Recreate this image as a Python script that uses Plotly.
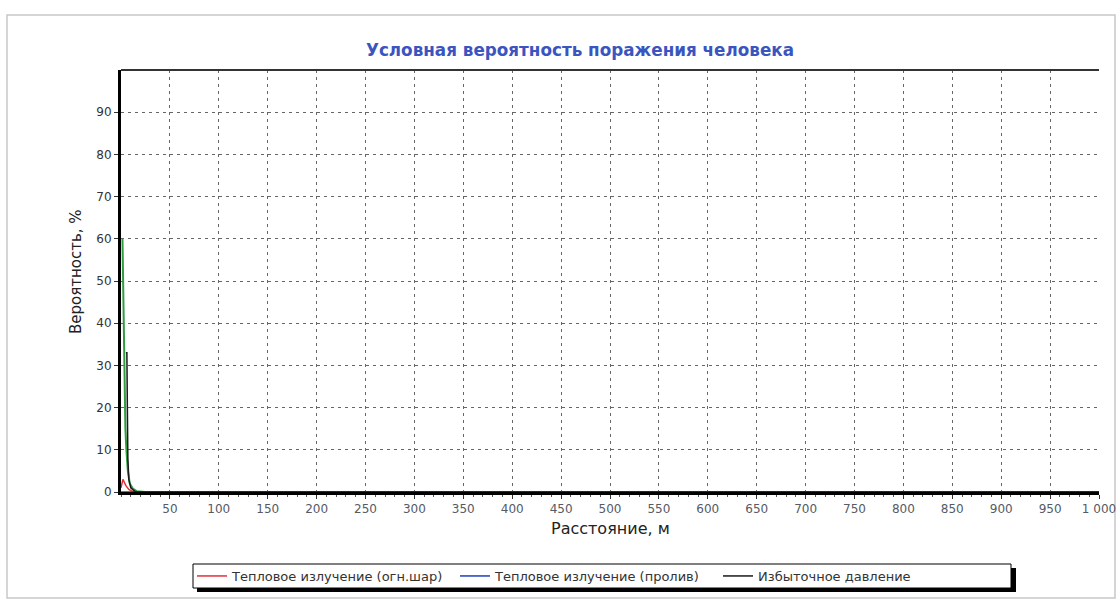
import plotly.graph_objects as go

# ---- data ----
dist_fireball = [0, 1, 2, 3, 5, 8, 12, 20, 1000]
prob_fireball = [1.0, 2.5, 3.0, 2.5, 1.5, 0.6, 0.1, 0.0, 0.0]

dist_pool = [0, 1000]
prob_pool = [0.0, 0.0]

dist_pressure = [5, 6, 6.5, 7, 8, 10, 15, 1000]
prob_pressure = [33.0, 33.0, 20.0, 8.0, 3.0, 1.0, 0.0, 0.0]

dist_green = [1.5, 2.5, 3.5, 4.5, 5.5, 7, 9, 12, 16, 25, 1000]
prob_green = [60.0, 40.0, 25.0, 15.0, 10.0, 5.0, 2.0, 0.8, 0.2, 0.0, 0.0]

x_ticks = [50, 100, 150, 200, 250, 300, 350, 400, 450, 500, 550, 600, 650, 700,
           750, 800, 850, 900, 950, 1000]
x_tick_labels = ["50", "100", "150", "200", "250", "300", "350", "400", "450", "500",
                 "550", "600", "650", "700", "750", "800", "850", "900", "950", "1 000"]
y_ticks = [0, 10, 20, 30, 40, 50, 60, 70, 80, 90]
y_tick_labels = [str(v) for v in y_ticks]

names = ["Тепловое излучение (огн.шар)", "Тепловое излучение (пролив)", "Избыточное давление"]

W, H = 1120, 613
# plot-area edges in screen pixels (page body margin removed below)
L, R, T, B = 121, 1099, 70, 492
PW, PH = R - L, B - T


def px_x(t):
    return (t - L) / PW


def px_y(t):
    return (B - t) / PH


FONT = "DejaVu Sans, Verdana, sans-serif"

fig = go.Figure()
fig.add_trace(go.Scatter(x=dist_green, y=prob_green, mode="lines", name="green",
                         showlegend=False, line=dict(color="#2e9e3e", width=2)))
fig.add_trace(go.Scatter(x=dist_fireball, y=prob_fireball, mode="lines", name=names[0],
                         line=dict(color="#e0303a", width=1.5)))
fig.add_trace(go.Scatter(x=dist_pool, y=prob_pool, mode="lines", name=names[1],
                         line=dict(color="#1f3fbf", width=1.5)))
fig.add_trace(go.Scatter(x=dist_pressure, y=prob_pressure, mode="lines", name=names[2],
                         line=dict(color="#1a1a1a", width=1.5)))

grid = dict(showgrid=True, gridcolor="#666666", gridwidth=1, griddash="3px,4px")

fig.update_layout(
    width=W, height=H,
    margin=dict(l=L, r=W - R, t=T, b=H - B),
    paper_bgcolor="white", plot_bgcolor="white",
    font=dict(family=FONT, size=12, color="#333333"),
    title=dict(text="<b>Условная вероятность поражения человека</b>",
               font=dict(family=FONT, size=16.8, color="#3a55c0"),
               xref="paper", x=px_x(580), xanchor="center",
               yref="container", y=1 - 50 / H, yanchor="middle"),
    xaxis=dict(range=[0, 1000], tickvals=x_ticks, ticktext=x_tick_labels,
               ticks="outside", ticklen=4, tickcolor="#333",
               tickfont=dict(size=12, color="#555a66"), ticklabeloverflow="allow",
               showline=True, linecolor="black", linewidth=3, mirror=False,
               zeroline=False, automargin=False,
               minor=dict(dtick=10, ticks="outside", ticklen=2, tickcolor="#555", showgrid=False),
               **grid),
    yaxis=dict(range=[0, 100], tickvals=y_ticks, ticktext=y_tick_labels,
               ticks="outside", ticklen=4, tickcolor="#333",
               tickfont=dict(size=12, color="#333"),
               showline=True, linecolor="black", linewidth=3, mirror=False,
               zeroline=False, automargin=False,
               **grid),
    legend=dict(orientation="h", xref="paper", yref="paper",
                x=px_x(192), xanchor="left", y=px_y(576), yanchor="middle",
                bgcolor="rgba(0,0,0,0)", borderwidth=0,
                font=dict(family=FONT, size=13, color="#333"),
                itemwidth=30, entrywidth=218, entrywidthmode="pixels"),
)

# axis titles as annotations (positioned like the original)
fig.add_annotation(text="Вероятность, %", xref="paper", yref="paper",
                   x=px_x(76), y=px_y(272), xanchor="center", yanchor="middle",
                   textangle=-90, showarrow=False,
                   font=dict(family=FONT, size=15, color="#222"))
fig.add_annotation(text="Расстояние, м", xref="paper", yref="paper",
                   x=px_x(610), y=px_y(528), xanchor="center", yanchor="middle",
                   showarrow=False,
                   font=dict(family=FONT, size=16, color="#222"))

# top frame line of the plot area (solid), right edge is the dotted 1000 grid line
fig.add_shape(type="line", xref="paper", yref="paper", x0=0, x1=1, y0=1, y1=1,
              line=dict(color="#333333", width=2))
# outer light frame of the whole chart
fig.add_shape(type="rect", xref="paper", yref="paper",
              x0=px_x(7), x1=px_x(1115), y0=px_y(598), y1=px_y(15),
              line=dict(color="#c8c8c8", width=1.5), layer="below")
# legend box with drop shadow
fig.add_shape(type="rect", xref="paper", yref="paper",
              x0=px_x(197), x1=px_x(1016), y0=px_y(592), y1=px_y(568),
              line=dict(width=0), fillcolor="black", layer="above")
fig.add_shape(type="rect", xref="paper", yref="paper",
              x0=px_x(193), x1=px_x(1011), y0=px_y(588), y1=px_y(564),
              line=dict(color="black", width=1), fillcolor="white", layer="above")

fig.write_html("out.html", config={"displayModeBar": False},
               post_script="document.body.style.margin='0';document.body.style.overflow='hidden';")
